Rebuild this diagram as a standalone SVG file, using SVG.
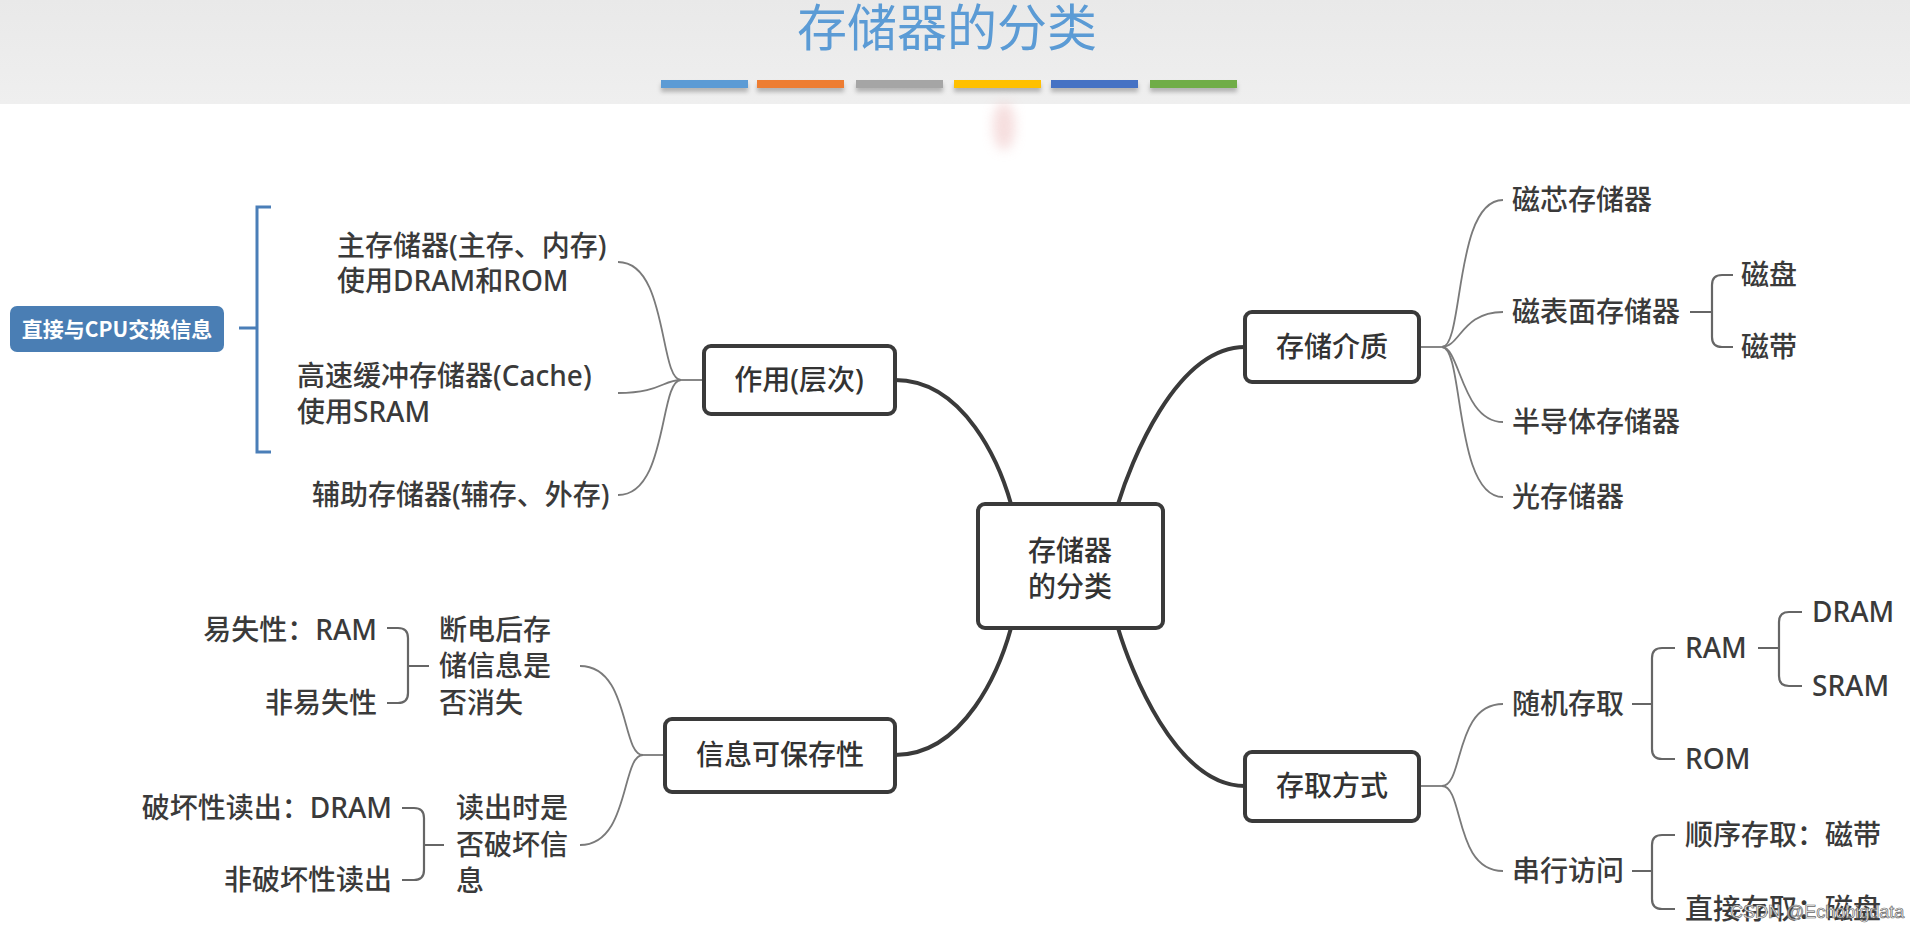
<svg xmlns="http://www.w3.org/2000/svg" width="1910" height="931" viewBox="0 0 1910 931">
<defs>
<style>
.t{font-family:"Noto Sans","Noto Sans CJK SC",sans-serif;font-size:28px;fill:#3a3a3a;font-weight:500;}
.n{font-family:"Noto Sans","Noto Sans CJK SC",sans-serif;font-size:28px;fill:#333;font-weight:500;text-anchor:middle;}
.box{fill:#fff;stroke:#3a3a3a;stroke-width:4;}
.thick{fill:none;stroke:#3a3a3a;stroke-width:4;stroke-linecap:round;}
.thin{fill:none;stroke:#7a7a7a;stroke-width:1.8;}
.br{fill:none;stroke:#666;stroke-width:2.2;}
</style>
<linearGradient id="hdr" x1="0" y1="0" x2="0" y2="1">
<stop offset="0" stop-color="#e9e9e9"/>
<stop offset="1" stop-color="#efefef"/>
</linearGradient>
<filter id="sh" x="-10%" y="-50%" width="120%" height="250%">
<feDropShadow dx="0" dy="4" stdDeviation="2" flood-color="#000" flood-opacity="0.25"/>
</filter>
<filter id="blur" x="-50%" y="-50%" width="200%" height="200%">
<feGaussianBlur stdDeviation="6"/>
</filter>
</defs>
<rect x="0" y="0" width="1910" height="931" fill="#fff"/>
<g id="header">
<rect x="0" y="0" width="1910" height="104" fill="url(#hdr)"/>
<text x="947" y="46" font-family="Noto Sans CJK SC, sans-serif" font-size="50" fill="#5b9bd5" text-anchor="middle">存储器的分类</text>
<g filter="url(#sh)">
<rect x="661" y="80" width="87" height="8" fill="#5b9bd5"/>
<rect x="757" y="80" width="87" height="8" fill="#ed7d31"/>
<rect x="856" y="80" width="87" height="8" fill="#a5a5a5"/>
<rect x="954" y="80" width="87" height="8" fill="#ffc000"/>
<rect x="1051" y="80" width="87" height="8" fill="#4472c4"/>
<rect x="1150" y="80" width="87" height="8" fill="#70ad47"/>
</g>
<ellipse cx="1004" cy="126" rx="11" ry="24" fill="#f0c8c8" opacity="0.6" filter="url(#blur)"/>
</g>
<g id="connectors">
<path class="thick" d="M895,380 C965,380 1000,465 1011,504"/>
<path class="thick" d="M1245,347 C1175,347 1130,465 1118,504"/>
<path class="thick" d="M895,755 C965,755 1000,668 1011,628"/>
<path class="thick" d="M1245,786 C1175,786 1130,668 1118,628"/>
<path class="thin" d="M1419,347 H1442"/>
<path class="thin" d="M1442,347 C1464,347 1454,200 1503,200"/>
<path class="thin" d="M1442,347 C1460,347 1462,312 1503,312"/>
<path class="thin" d="M1442,347 C1460,347 1462,422 1503,422"/>
<path class="thin" d="M1442,347 C1464,347 1454,497 1503,497"/>
<path class="br" d="M1690,312 H1712 M1733,275 H1722 Q1712,275 1712,285 V337 Q1712,347 1722,347 H1733"/>
<path class="thin" d="M1419,786 H1442"/>
<path class="thin" d="M1442,786 C1464,786 1454,704 1503,704"/>
<path class="thin" d="M1442,786 C1464,786 1454,871 1503,871"/>
<path class="br" d="M1632,704 H1652 M1675,648 H1662 Q1652,648 1652,658 V749 Q1652,759 1662,759 H1675"/>
<path class="br" d="M1758,648 H1779 M1802,612 H1789 Q1779,612 1779,622 V676 Q1779,686 1789,686 H1802"/>
<path class="br" d="M1632,871 H1652 M1675,835 H1662 Q1652,835 1652,845 V899 Q1652,909 1662,909 H1675"/>
<path class="thin" d="M704,380 H681"/>
<path class="thin" d="M681,380 C659,380 668,262 618,262"/>
<path class="thin" d="M681,380 C663,380 660,393 618,393"/>
<path class="thin" d="M681,380 C659,380 668,495 618,495"/>
<path class="thin" d="M665,755 H643"/>
<path class="thin" d="M643,755 C621,755 630,666 580,666"/>
<path class="thin" d="M643,755 C621,755 630,845 580,845"/>
<path class="br" d="M429,666 H408 M387,628 H398 Q408,628 408,638 V693 Q408,703 398,703 H387"/>
<path class="br" d="M444,845 H424 M402,808 H414 Q424,808 424,818 V870 Q424,880 414,880 H402"/>
<path fill="none" stroke="#4a7eb8" stroke-width="3" d="M271,207 H257 V452 H271 M257,328 H239"/>
</g>
<g id="center">
<rect class="box" x="978" y="504" width="185" height="124" rx="7"/>
<text class="n" x="1070" y="561">存储器</text>
<text class="n" x="1070" y="597">的分类</text>
</g>
<g id="zuoyong">
<rect class="box" x="704" y="346" width="191" height="68" rx="7"/>
<text class="n" x="799" y="390">作用(层次)</text>
</g>
<g id="jiezhi">
<rect class="box" x="1245" y="312" width="174" height="70" rx="7"/>
<text class="n" x="1332" y="357">存储介质</text>
</g>
<g id="baocun">
<rect class="box" x="665" y="719" width="230" height="73" rx="7"/>
<text class="n" x="780" y="765">信息可保存性</text>
</g>
<g id="cunqu">
<rect class="box" x="1245" y="752" width="174" height="69" rx="7"/>
<text class="n" x="1332" y="796">存取方式</text>
</g>
<g id="cpu">
<rect x="10" y="306" width="214" height="46" rx="7" fill="#4a7eb4"/>
<text x="117" y="337" font-family="Noto Sans CJK SC, sans-serif" font-size="21" font-weight="bold" fill="#fff" text-anchor="middle">直接与CPU交换信息</text>
</g>
<g id="leaf-zhucun"><text class="t" x="337" y="256">主存储器(主存、内存)</text><text class="t" x="337" y="291">使用DRAM和ROM</text></g>
<g id="leaf-cache"><text class="t" x="297" y="386">高速缓冲存储器(Cache)</text><text class="t" x="297" y="422">使用SRAM</text></g>
<g id="leaf-fucun"><text class="t" x="312" y="505">辅助存储器(辅存、外存)</text></g>
<g id="leaf-cixin"><text class="t" x="1512" y="210">磁芯存储器</text></g>
<g id="leaf-cibiao"><text class="t" x="1512" y="322">磁表面存储器</text></g>
<g id="leaf-cipan"><text class="t" x="1741" y="285">磁盘</text></g>
<g id="leaf-cidai"><text class="t" x="1741" y="357">磁带</text></g>
<g id="leaf-bandaoti"><text class="t" x="1512" y="432">半导体存储器</text></g>
<g id="leaf-guang"><text class="t" x="1512" y="507">光存储器</text></g>
<g id="leaf-suiji"><text class="t" x="1512" y="714">随机存取</text></g>
<g id="leaf-chuanxing"><text class="t" x="1512" y="881">串行访问</text></g>
<g id="leaf-ram"><text class="t" x="1685" y="658">RAM</text></g>
<g id="leaf-rom"><text class="t" x="1685" y="769">ROM</text></g>
<g id="leaf-dram"><text class="t" x="1812" y="622">DRAM</text></g>
<g id="leaf-sram"><text class="t" x="1812" y="696">SRAM</text></g>
<g id="leaf-shunxu"><text class="t" x="1685" y="845">顺序存取：磁带</text></g>
<g id="leaf-zhijie"><text class="t" x="1685" y="919">直接存取：磁盘</text></g>
<g id="leaf-duandian"><text class="t" x="439" y="640">断电后存</text><text class="t" x="439" y="676">储信息是</text><text class="t" x="439" y="713">否消失</text></g>
<g id="leaf-yishi"><text class="t" x="377" y="640" text-anchor="end">易失性：RAM</text></g>
<g id="leaf-feiyishi"><text class="t" x="377" y="713" text-anchor="end">非易失性</text></g>
<g id="leaf-duchu"><text class="t" x="456" y="818">读出时是</text><text class="t" x="456" y="855">否破坏信</text><text class="t" x="456" y="891">息</text></g>
<g id="leaf-pohuai"><text class="t" x="392" y="818" text-anchor="end">破坏性读出：DRAM</text></g>
<g id="leaf-feipohuai"><text class="t" x="392" y="890" text-anchor="end">非破坏性读出</text></g>
<text x="1730" y="918" font-family="Liberation Sans, sans-serif" font-size="18" fill="#fff" stroke="#666" stroke-width="0.7">CSDN @Echobigdata</text>
</svg>
